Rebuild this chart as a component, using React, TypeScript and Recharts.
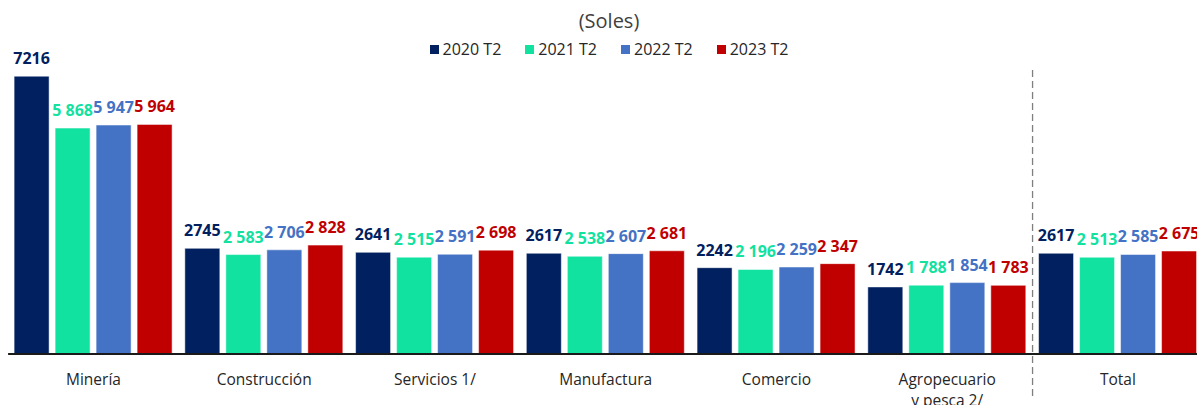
import React from "react";
import { BarChart, Bar, XAxis, YAxis, LabelList, Legend, ReferenceLine } from "recharts";

const categories = [
  "Minería",
  "Construcción",
  "Servicios 1/",
  "Manufactura",
  "Comercio",
  "Agropecuario\ny pesca 2/",
  "Total",
];
const s2020 = [7216, 2745, 2641, 2617, 2242, 1742, 2617];
const s2021 = [5868, 2583, 2515, 2538, 2196, 1788, 2513];
const s2022 = [5947, 2706, 2591, 2607, 2259, 1854, 2585];
const s2023 = [5964, 2828, 2698, 2681, 2347, 1783, 2675];

const seriesNames = ["2020 T2", "2021 T2", "2022 T2", "2023 T2"];
const seriesKeys = ["y2020", "y2021", "y2022", "y2023"];
const seriesColors = ["#002060", "#12E29F", "#4472C4", "#C00000"];

const data = categories.map((c, i) => ({
  name: c,
  y2020: s2020[i],
  y2021: s2021[i],
  y2022: s2022[i],
  y2023: s2023[i],
}));

const FONT = "'Open Sans', 'Noto Sans', sans-serif";

const plainFmt = (v: any) => String(v);
const spaceFmt = (v: any) => {
  const s = String(v);
  return s.length > 3 ? s.slice(0, s.length - 3) + " " + s.slice(s.length - 3) : s;
};

const makeLabel = (color: string, fmt: (v: any) => string) => (props: any) => {
  const { x, y, width, value } = props;
  return (
    <text
      x={Number(x) + Number(width) / 2}
      y={Number(y) - 12}
      textAnchor="middle"
      fill={color}
      fontWeight="bold"
      fontSize={16}
      fontFamily={FONT}
    >
      {fmt(value)}
    </text>
  );
};

const CatTick = (props: any) => {
  const { x, y, payload } = props;
  const lines = String(payload.value).split("\n");
  return (
    <text x={x} y={y + 29} textAnchor="middle" fill="#262626" fontSize={15.5} fontFamily={FONT}>
      {lines.map((l, i) => (
        <tspan key={i} x={x} dy={i === 0 ? 0 : 21}>
          {l}
        </tspan>
      ))}
    </text>
  );
};

const LegendContent = () => (
  <div
    style={{
      display: "flex",
      justifyContent: "center",
      paddingLeft: 8,
      fontFamily: FONT,
      fontSize: 16,
      lineHeight: "22px",
      color: "#262626",
    }}
  >
    {seriesNames.map((n, i) => (
      <div key={n} style={{ display: "flex", alignItems: "center", marginRight: i < 3 ? 24 : 0 }}>
        <span style={{ display: "inline-block", width: 9, height: 9, background: seriesColors[i], marginRight: 4 }} />
        <span>{n}</span>
      </div>
    ))}
  </div>
);

const DashedDivider = (props: any) => (
  <line x1={props.x1} x2={props.x2} y1={70} y2={398} stroke="#7F7F7F" strokeWidth={1.3} strokeDasharray="7 4" />
);

export default function App() {
  return (
    <div style={{ width: 1197, height: 405, overflow: "hidden", position: "relative", background: "#fff" }}>
      <style>{`body{margin:0;}`}</style>
      <div
        style={{
          position: "absolute",
          top: 7,
          left: 0,
          width: 1218,
          textAlign: "center",
          fontFamily: FONT,
          fontSize: 20,
          lineHeight: "28px",
          color: "#404040",
        }}
      >
        (Soles)
      </div>
      <BarChart
        width={1210}
        height={405}
        data={data}
        margin={{ top: 46, right: 6.7, left: 8.1, bottom: 21 }}
        barSize={35}
        barGap={6}
      >
        <XAxis
          dataKey="name"
          interval={0}
          height={30}
          tickLine={false}
          tickSize={0}
          tick={<CatTick />}
          axisLine={{ stroke: "#1a1a1a", strokeWidth: 2 }}
        />
        <YAxis hide domain={[0, 8000]} />
        <Legend
          verticalAlign="middle"
          layout="horizontal"
          align="center"
          content={<LegendContent />}
          wrapperStyle={{ position: "absolute", top: 38, left: 0, width: 1210 }}
        />
        {seriesKeys.map((k, i) => (
          <Bar key={k} dataKey={k} name={seriesNames[i]} fill={seriesColors[i]} stroke="#ffffff" strokeOpacity={0.5} strokeWidth={1} isAnimationActive={false}>
            <LabelList dataKey={k} content={makeLabel(seriesColors[i], i === 0 ? plainFmt : spaceFmt)} />
          </Bar>
        ))}
        <ReferenceLine x="Total" position="start" ifOverflow="visible" shape={<DashedDivider />} />
      </BarChart>
    </div>
  );
}
